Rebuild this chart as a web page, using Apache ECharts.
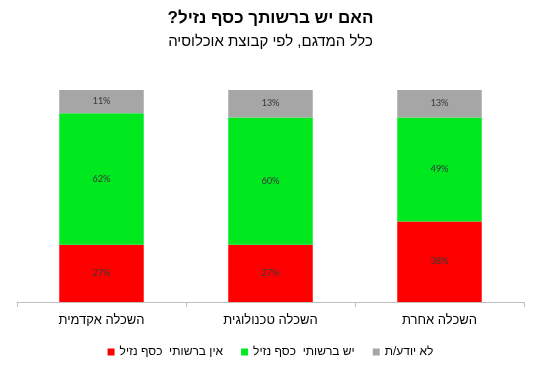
<!DOCTYPE html>
<html><head><meta charset="utf-8">
<script src="https://cdn.jsdelivr.net/npm/echarts@6/dist/echarts.min.js"></script>
<style>html,body{margin:0;padding:0;background:#fff}#c{width:541px;height:378px}</style>
</head><body><div id="c"></div>
<script>
const categories = ['השכלה אקדמית', 'השכלה טכנולוגית', 'השכלה אחרת'];
const seriesNames = ['אין ברשותי  כסף נזיל', 'יש ברשותי  כסף נזיל', 'לא יודע/ת'];
const noMoney = [27, 27, 38];
const hasMoney = [62, 60, 49];
const dontKnow = [11, 13, 13];
const colors = ['#FF0000', '#00E81E', '#A6A6A6'];
const chart = echarts.init(document.getElementById('c'));
const lbl = {show: true, position: 'inside', formatter: p => p.value + '%', color: '#3a3a3a', fontSize: 10.5, fontFamily: 'Carlito, Liberation Sans, sans-serif'};
chart.setOption({
  animation: false,
  title: [{text: '\u200Fהאם יש ברשותך כסף נזיל?\u200F', left: 'center', top: 5, textStyle: {fontSize: 17, fontWeight: 'bold', color: '#000', fontFamily: 'Liberation Sans, Arial, sans-serif'}},
          {text: '\u200Fכלל המדגם, לפי קבוצת אוכלוסיה\u200F', left: 'center', top: 29, textStyle: {fontSize: 15, fontWeight: 'normal', color: '#000', fontFamily: 'Liberation Sans, Arial, sans-serif'}}],
  legend: {bottom: 15, left: 'center', itemWidth: 7, itemHeight: 7, itemGap: 18, icon: 'rect', textStyle: {fontSize: 12, color: '#000', fontFamily: 'Liberation Sans, Arial, sans-serif'}},
  grid: {left: 17, right: 17, top: 90, bottom: 76},
  xAxis: {type: 'category', data: categories, axisLine: {lineStyle: {color: '#BFBFBF'}}, axisTick: {show: true, lineStyle: {color: '#BFBFBF'}}, axisLabel: {fontSize: 13, color: '#000', margin: 12, fontFamily: 'Liberation Sans, Arial, sans-serif'}},
  yAxis: {type: 'value', min: 0, max: 100, show: false, splitLine: {show: false}},
  series: [
    {name: seriesNames[0], type: 'bar', stack: 's', data: noMoney, barWidth: '50%', itemStyle: {color: colors[0]}, label: lbl},
    {name: seriesNames[1], type: 'bar', stack: 's', data: hasMoney, barWidth: '50%', itemStyle: {color: colors[1]}, label: lbl},
    {name: seriesNames[2], type: 'bar', stack: 's', data: dontKnow, barWidth: '50%', itemStyle: {color: colors[2]}, label: lbl}
  ]
});
</script></body></html>
